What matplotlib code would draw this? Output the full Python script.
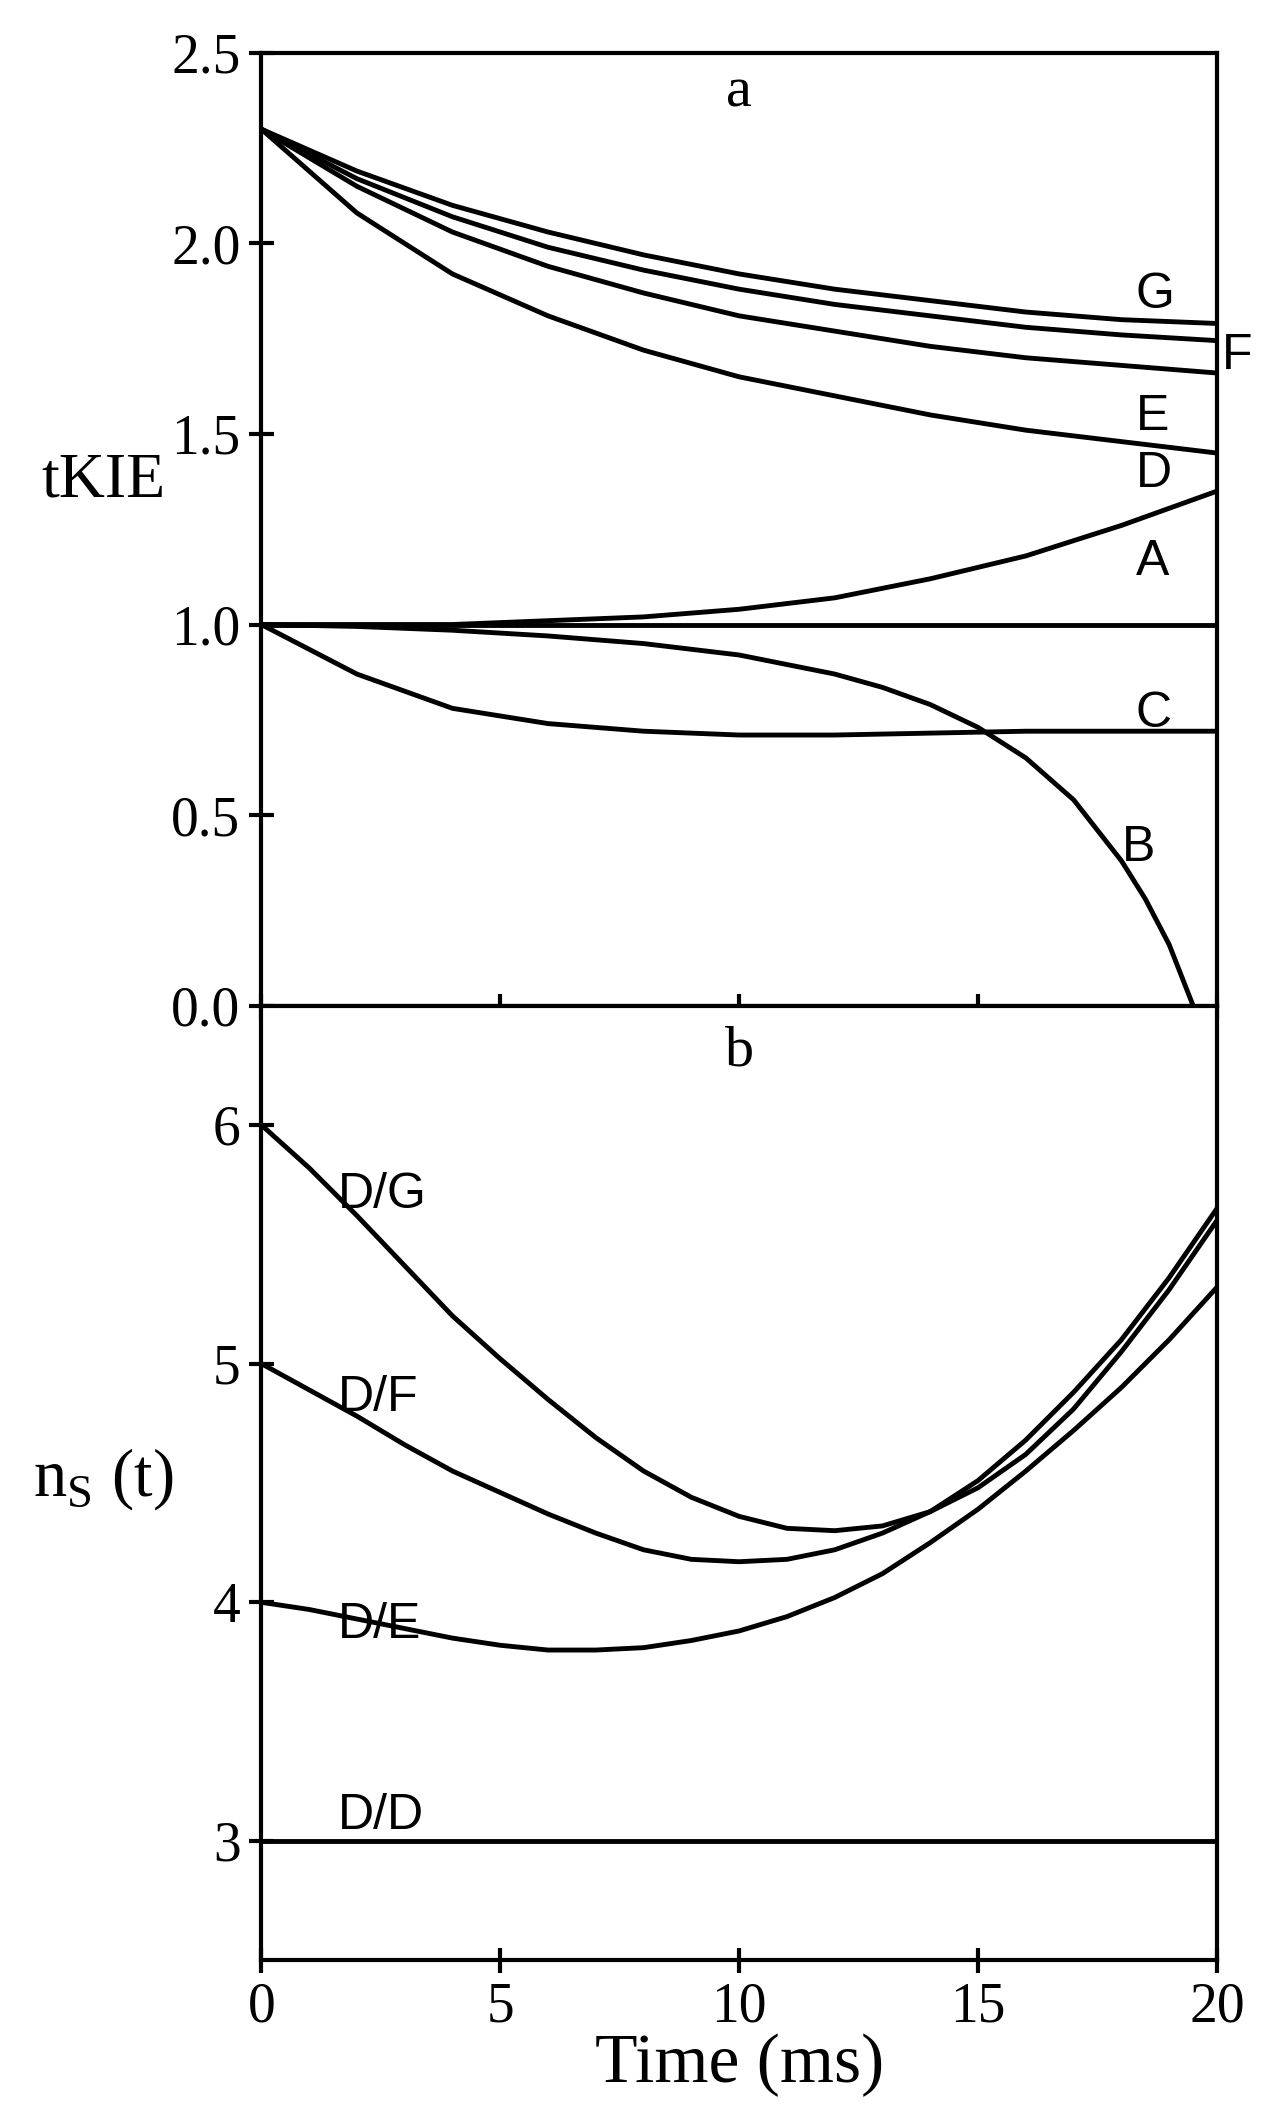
import matplotlib
matplotlib.use("Agg")
import matplotlib.pyplot as plt
import numpy as np

t = [0, 2, 4, 6, 8, 10, 12, 14, 16, 18, 20]
G = [2.30, 2.19, 2.10, 2.03, 1.97, 1.92, 1.88, 1.85, 1.82, 1.80, 1.79]
F = [2.30, 2.17, 2.07, 1.99, 1.93, 1.88, 1.84, 1.81, 1.78, 1.76, 1.745]
E = [2.30, 2.15, 2.03, 1.94, 1.87, 1.81, 1.77, 1.73, 1.70, 1.68, 1.66]
D = [2.30, 2.08, 1.92, 1.81, 1.72, 1.65, 1.60, 1.55, 1.51, 1.48, 1.45]
A = [1.0, 1.0, 1.0, 1.01, 1.02, 1.04, 1.07, 1.12, 1.18, 1.26, 1.35]
flat = [1.0] * 11
C = [1.0, 0.87, 0.78, 0.74, 0.72, 0.71, 0.71, 0.715, 0.72, 0.72, 0.72]
tB = [0, 2, 4, 6, 8, 10, 12, 13, 14, 15, 16, 17, 18, 18.5, 19, 19.5]
B = [1.0, 0.995, 0.985, 0.97, 0.95, 0.92, 0.87, 0.835, 0.79, 0.73, 0.65, 0.54, 0.38, 0.28, 0.16, 0.0]

t1 = list(range(21))
DG = [6.0, 5.82, 5.62, 5.41, 5.20, 5.02, 4.85, 4.69, 4.55, 4.44, 4.36, 4.31, 4.30, 4.32, 4.38, 4.48, 4.62, 4.81, 5.05, 5.31, 5.60]
DF = [5.0, 4.89, 4.78, 4.66, 4.55, 4.46, 4.37, 4.29, 4.22, 4.18, 4.17, 4.18, 4.22, 4.29, 4.38, 4.51, 4.68, 4.88, 5.10, 5.36, 5.65]
DE = [4.0, 3.97, 3.93, 3.89, 3.85, 3.82, 3.80, 3.80, 3.81, 3.84, 3.88, 3.94, 4.02, 4.12, 4.25, 4.39, 4.55, 4.72, 4.90, 5.10, 5.32]
DD = [3.0] * 21

serif = "Liberation Serif"
sans = "Liberation Sans"

fig = plt.figure(figsize=(12.81, 21.17), dpi=100)
ax1 = fig.add_axes([0.204, 0.525, 0.746, 0.45])
ax2 = fig.add_axes([0.204, 0.074, 0.746, 0.451], sharex=ax1)
kw = dict(color="black", lw=3.5, solid_joinstyle="round")
for y in [G, F, E, D, A, flat, C]:
    ax1.plot(t, y, **kw)
ax1.plot(tB, B, **kw)
for y in [DG, DF, DE, DD]:
    ax2.plot(t1, y, **kw)

ax1.set_xlim(0, 20)
ax1.set_ylim(0, 2.5)
ax2.set_ylim(2.5, 6.5)
ax1.set_yticks([0, 0.5, 1.0, 1.5, 2.0, 2.5])
ax1.set_yticklabels(["0.0", "0.5", "1.0", "1.5", "2.0", "2.5"])
ax2.set_yticks([3, 4, 5, 6])
ax2.set_xticks([0, 5, 10, 15, 20])
for ax in (ax1, ax2):
    for s in ax.spines.values():
        s.set_linewidth(3)
    ax.tick_params(direction="inout", length=18, width=3, labelsize=40, pad=6)
    for lab in ax.get_xticklabels() + ax.get_yticklabels():
        lab.set_fontfamily(serif)
ax1.tick_params(axis="x", labelbottom=False, bottom=True, top=False, direction="inout")

ax1.text(10, 2.36, "a", fontsize=42, family=serif, ha="center")
ax2.text(10, 6.25, "b", fontsize=42, family=serif, ha="center")
ax1.set_ylabel("tKIE", fontsize=46, family=serif, rotation=0)
ax1.yaxis.set_label_coords(-0.165, 0.52)
ax2.set_ylabel(r"n$_\mathregular{S}$ (t)", fontsize=48, family=serif, rotation=0)
ax2.yaxis.set_label_coords(-0.165, 0.47)
ax2.set_xlabel("Time (ms)", fontsize=50, family=serif, labelpad=0)

lab_kw = dict(fontsize=36, family=sans)
ax1.text(18.3, 1.83, "G", **lab_kw)
ax1.text(20.1, 1.67, "F", **lab_kw)
ax1.text(18.3, 1.51, "E", **lab_kw)
ax1.text(18.3, 1.36, "D", **lab_kw)
ax1.text(18.3, 1.13, "A", **lab_kw)
ax1.text(18.3, 0.73, "C", **lab_kw)
ax1.text(18.0, 0.38, "B", **lab_kw)
ax2.text(1.6, 5.65, "D/G", **lab_kw)
ax2.text(1.6, 4.8, "D/F", **lab_kw)
ax2.text(1.6, 3.85, "D/E", **lab_kw)
ax2.text(1.6, 3.05, "D/D", **lab_kw)

fig.savefig("out.png", dpi=100)
